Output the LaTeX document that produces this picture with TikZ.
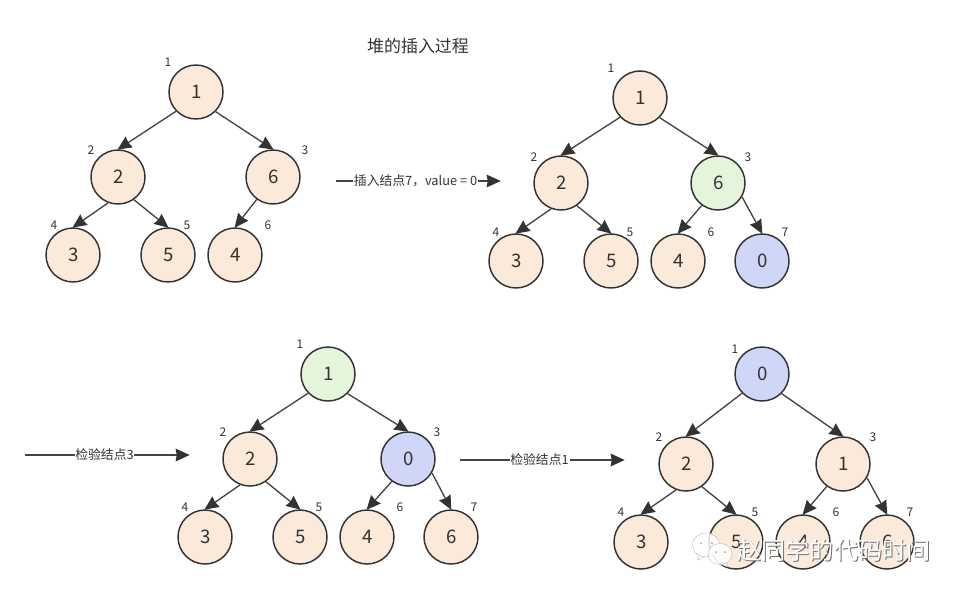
\documentclass[tikz,border=0pt]{standalone}
\usepackage{fontspec}
\setmainfont{Noto Sans CJK SC}
\usetikzlibrary{arrows.meta}
\definecolor{ink}{HTML}{333333}
\definecolor{wire}{HTML}{444444}
\definecolor{peach}{HTML}{FBE9DA}
\definecolor{mint}{HTML}{E5F5DC}
\definecolor{lav}{HTML}{CFD6F7}
\tikzset{
  heapnode/.style={circle,draw=ink,line width=1.1pt,minimum size=40.5pt,inner sep=0pt,fill=peach,text=ink,font=\fontsize{14pt}{16pt}\selectfont,execute at begin node=\hspace{1.2pt}},
  greennode/.style={heapnode,fill=mint},
  bluenode/.style={heapnode,fill=lav},
  idx/.style={text=ink,inner sep=0pt,font=\fontsize{9pt}{11pt}\selectfont},
  edge/.style={draw=wire,line width=1pt,-{Stealth[length=10.5pt,width=9.5pt,inset=.8pt,color=ink]},shorten >=-.5pt},
  arrowlabel/.style={fill=white,inner sep=.6pt,text=ink,font=\fontsize{9.6pt}{11pt}\selectfont},
  markbubble/.style={draw=gray!55,fill=white,line width=.3pt},
  markdot/.style={fill=gray!70,draw=none},
}
\begin{document}
\begin{tikzpicture}[x=.75pt,y=-.75pt]
\useasboundingbox (0,0) rectangle (962,594);
\fill[white] (0,0) rectangle (962,594);
\node[text=ink,inner sep=0pt,font=\fontsize{12.7pt}{14pt}\selectfont] (title) at (418,46) {堆的插入过程};

% tree A
\node[heapnode] (a1) at (196,92) {1};
\node[heapnode] (a2) at (118,177) {2};
\node[heapnode] (a3) at (273,177) {6};
\node[heapnode] (a4) at (73,255) {3};
\node[heapnode] (a5) at (168,255) {5};
\node[heapnode] (a6) at (235,255) {4};
\draw[edge] (a1.-136) -- (a2.north);
\draw[edge] (a1.-45) -- (a3.north);
\draw[edge] (a2.-111) -- (a4.north);
\draw[edge] (a2.-55) -- (a5.north);
\draw[edge] (a3.-126) -- (a6.north);
\node[idx] (la1) at (168,62) {1};
\node[idx] (la2) at (91,150) {2};
\node[idx] (la3) at (305,150) {3};
\node[idx] (la4) at (54,225) {4};
\node[idx] (la5) at (187,225) {5};
\node[idx] (la6) at (268,225) {6};

% tree B
\node[heapnode] (b1) at (640,98) {1};
\node[heapnode] (b2) at (561,183) {2};
\node[greennode] (b3) at (718,183) {6};
\node[heapnode] (b4) at (516,261) {3};
\node[heapnode] (b5) at (611,261) {5};
\node[heapnode] (b6) at (678,261) {4};
\node[bluenode] (b7) at (762,261) {0};
\draw[edge] (b1.-136) -- (b2.north);
\draw[edge] (b1.-45) -- (b3.north);
\draw[edge] (b2.-111) -- (b4.north);
\draw[edge] (b2.-55) -- (b5.north);
\draw[edge] (b3.-126) -- (b6.north);
\draw[edge] (b3.-30) -- (b7.north);
\node[idx] (lb1) at (611,68) {1};
\node[idx] (lb2) at (534,157) {2};
\node[idx] (lb3) at (748,157) {3};
\node[idx] (lb4) at (496,232) {4};
\node[idx] (lb5) at (630,232) {5};
\node[idx] (lb6) at (711,232) {6};
\node[idx] (lb7) at (785,232) {7};

% tree C
\node[greennode] (c1) at (328,374) {1};
\node[heapnode] (c2) at (250,459) {2};
\node[bluenode] (c3) at (408,459) {0};
\node[heapnode] (c4) at (205,537) {3};
\node[heapnode] (c5) at (300,537) {5};
\node[heapnode] (c6) at (367,537) {4};
\node[heapnode] (c7) at (451,537) {6};
\draw[edge] (c1.-136) -- (c2.north);
\draw[edge] (c1.-45) -- (c3.north);
\draw[edge] (c2.-111) -- (c4.north);
\draw[edge] (c2.-55) -- (c5.north);
\draw[edge] (c3.-126) -- (c6.north);
\draw[edge] (c3.-30) -- (c7.north);
\node[idx] (lc1) at (300,344) {1};
\node[idx] (lc2) at (223,432) {2};
\node[idx] (lc3) at (437,432) {3};
\node[idx] (lc4) at (185,507) {4};
\node[idx] (lc5) at (319,507) {5};
\node[idx] (lc6) at (400,507) {6};
\node[idx] (lc7) at (474,507) {7};

% tree D
\node[bluenode] (d1) at (762,374) {0};
\node[heapnode] (d2) at (686,464) {2};
\node[heapnode] (d3) at (843,464) {1};
\node[heapnode] (d4) at (641,542) {3};
\node[heapnode] (d5) at (736,542) {5};
\node[heapnode] (d6) at (803,542) {4};
\node[heapnode] (d7) at (887,542) {6};
\draw[edge] (d1.-136) -- (d2.north);
\draw[edge] (d1.-45) -- (d3.north);
\draw[edge] (d2.-111) -- (d4.north);
\draw[edge] (d2.-55) -- (d5.north);
\draw[edge] (d3.-126) -- (d6.north);
\draw[edge] (d3.-30) -- (d7.north);
\node[idx] (ld1) at (735,349) {1};
\node[idx] (ld2) at (659,437) {2};
\node[idx] (ld3) at (873,437) {3};
\node[idx] (ld4) at (621,512) {4};
\node[idx] (ld5) at (755,512) {5};
\node[idx] (ld6) at (836,512) {6};
\node[idx] (ld7) at (910,512) {7};

% step arrows
\coordinate (s1) at (336,181);
\coordinate (e1) at (500,181);
\draw[edge] (s1) -- node[arrowlabel,pos=.485] (t1) {插入结点7，value = 0} (e1);
\coordinate (s2) at (25,455);
\coordinate (e2) at (189,455);
\draw[edge] (s2) -- node[arrowlabel,pos=.485] (t2) {检验结点3} (e2);
\coordinate (s3) at (460,460);
\coordinate (e3) at (624,460);
\draw[edge] (s3) -- node[arrowlabel,pos=.485] (t3) {检验结点1} (e3);

% watermark
\path[markbubble,fill opacity=.8] (698,560) -- (700,552) -- (708,555) -- cycle;
\path[markbubble,fill opacity=.8] (706,545) ellipse (13.5 and 12);
\fill[markdot] (701,543) circle (1);
\fill[markdot] (712,543) circle (1);
\path[markbubble,fill opacity=.9] (728,567) -- (725,560) -- (720,564) -- cycle;
\path[markbubble,fill opacity=.9] (720,554) ellipse (12 and 10.5);
\fill[markdot] (716,552) circle (1);
\fill[markdot] (725,552) circle (1);
\node[inner sep=0pt,text=black!55,font=\fontsize{18.1pt}{20pt}\selectfont] (wms) at (835,551) {赵同学的代码时间};
\node[inner sep=0pt,text=white,font=\fontsize{18.1pt}{20pt}\selectfont] (wm) at (834,550) {赵同学的代码时间};
\end{tikzpicture}
\end{document}
